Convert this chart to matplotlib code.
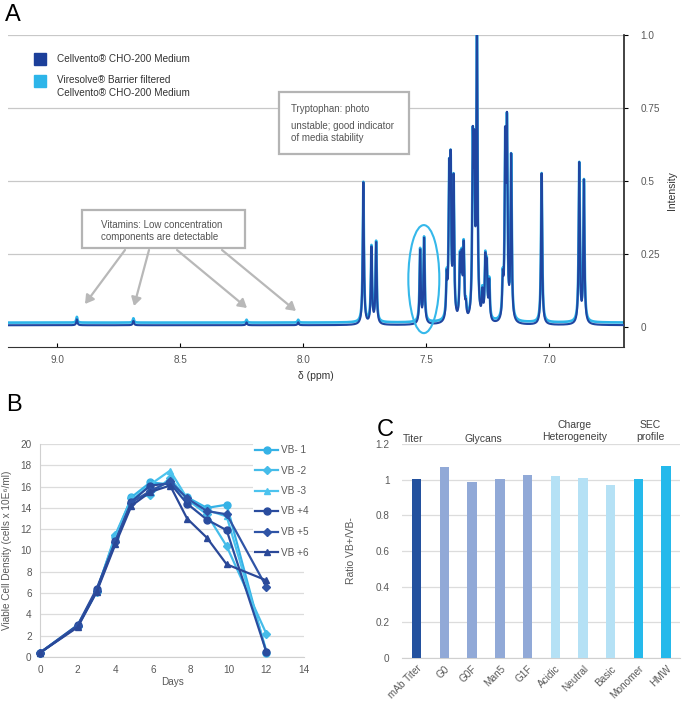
import numpy as np
import matplotlib
matplotlib.use("Agg")
import matplotlib.pyplot as plt
from matplotlib.patches import Ellipse, Rectangle, FancyArrowPatch

plt.rcParams['font.family'] = ['Liberation Sans', 'DejaVu Sans']

W, H = 685, 708

# ---- panel A: NMR peaks (ppm, apparent intensity)
peak_ppm = [7.755, 7.722, 7.703, 7.524, 7.508,
            7.416, 7.406, 7.400, 7.388, 7.362, 7.355, 7.347, 7.338,
            7.310, 7.304, 7.293, 7.271, 7.259, 7.253, 7.243,
            7.188, 7.178, 7.171, 7.154, 7.030, 6.877, 6.858,
            8.920, 8.690, 8.230, 8.020]
peak_int = [0.49, 0.27, 0.285, 0.26, 0.30,
            0.19, 0.57, 0.60, 0.52, 0.25, 0.26, 0.29, 0.09,
            0.68, 0.67, 1.05, 0.13, 0.25, 0.23, 0.16,
            0.19, 0.68, 0.73, 0.59, 0.52, 0.56, 0.50,
            0.02, 0.015, 0.01, 0.01]
baseline_dark = 0.006
baseline_light = 0.015
xticks_a = [9.0, 8.5, 8.0, 7.5, 7.0]
yticks_a = [0, 0.25, 0.5, 0.75, 1.0]
ylabels_a = ['0', '0.25', '0.5', '0.75', '1.0']

# ---- panel B: viable cell density
days = [0, 2, 3, 4, 4.85, 5.85, 6.9, 7.8, 8.85, 9.9, 12]
vb_m1 = [0.4, 2.9, 6.2, 11.3, 15.0, 16.4, 16.2, 15.0, 14.0, 14.3, 0.4]
vb_m2 = [0.4, 2.9, 6.1, 11.5, 14.9, 15.2, 16.8, 14.8, 13.4, 10.4, 2.2]
vb_m3 = [0.4, 3.0, 6.2, 11.2, 14.7, 16.2, 17.5, 14.9, 13.8, 13.2, 0.6]
vb_p4 = [0.4, 3.0, 6.4, 10.9, 14.6, 16.1, 16.3, 14.4, 12.9, 11.9, 0.5]
vb_p5 = [0.4, 2.9, 6.2, 10.8, 14.5, 15.6, 16.5, 14.9, 13.7, 13.4, 6.6]
vb_p6 = [0.4, 2.8, 6.1, 10.6, 14.2, 15.5, 16.1, 13.0, 11.2, 8.7, 7.2]
series_b = [vb_m1, vb_m2, vb_m3, vb_p4, vb_p5, vb_p6]
labels_b = ['VB- 1', 'VB -2', 'VB -3', 'VB +4', 'VB +5', 'VB +6']
colors_b = ['#35b2e6', '#45bce9', '#4cc3ee', '#2a4c9e', '#2f54a6', '#2a4898']
markers_b = ['o', 'D', '^', 'o', 'D', '^']

# ---- panel C: ratio VB+/VB-
cats_c = ['mAb Titer', 'G0', 'G0F', 'Man5', 'G1F', 'Acidic', 'Neutral',
          'Basic', 'Monomer', 'HMW']
ratio_c = [1.004, 1.069, 0.989, 1.006, 1.024, 1.022, 1.007, 0.968, 1.004, 1.075]
colors_c = ['#23519e', '#91a9d7', '#91a9d7', '#91a9d7', '#91a9d7',
            '#b5e1f5', '#b5e1f5', '#b5e1f5', '#25b9eb', '#25b9eb']


def fx(px):
    return px / W


def fy(py):
    return 1 - py / H


def lor(x, x0, g):
    return g**2 / ((x - x0)**2 + g**2)


fig = plt.figure(figsize=(W / 100, H / 100), dpi=100)
grey_txt = '#595959'

# ================= A =================
axA = fig.add_axes([fx(8), fy(347), fx(624) - fx(8), fy(35) - fy(347)])
gam = 0.0028
P = np.array(peak_ppm)
# solve for line amplitudes so the summed curve hits the read heights
M = lor(P[:, None], P[None, :], gam)
amps = np.linalg.solve(M, np.array(peak_int))
ppm = np.linspace(9.2, 6.69, 9000)
spec = (amps[None, :] * lor(ppm[:, None], P[None, :], gam)).sum(axis=1)
axA.plot(ppm, spec * 0.985 + baseline_light, color='#2db5e9', lw=1.9, zorder=2)
axA.plot(ppm, spec + baseline_dark, color='#1f46a1', lw=1.5, zorder=3)
axA.set_xlim(9.2, 6.695)
axA.set_ylim(-0.0685, 1.0)
for s in ['top', 'left']:
    axA.spines[s].set_visible(False)
axA.spines['bottom'].set_color('#333333')
axA.spines['right'].set_color('#222222')
axA.spines['right'].set_linewidth(1.2)
axA.yaxis.tick_right()
axA.yaxis.set_label_position('right')
axA.set_yticks(yticks_a)
axA.set_yticklabels(ylabels_a)
axA.set_xticks(xticks_a)
axA.set_xticklabels([f'{v:.1f}' for v in xticks_a])
axA.tick_params(axis='y', length=3, pad=9, labelsize=7.2, labelcolor=grey_txt)
axA.tick_params(axis='x', direction='in', length=3, pad=6, labelsize=7.2,
                labelcolor=grey_txt)
for v in yticks_a[1:]:
    axA.axhline(v, color='#c8c8c8', lw=0.9, zorder=0)
axA.set_ylabel('Intensity', fontsize=7.5, labelpad=5, color='#333333')
axA.set_xlabel('δ (ppm)', fontsize=7.5, labelpad=4, color='#333333')
axA.add_patch(Ellipse((7.509, 0.164), 0.126, 0.37, fill=False,
                      ec='#35b8ea', lw=1.5, zorder=4))

fig.text(fx(5), fy(15), 'A', fontsize=17, va='center', ha='left')

# legend
for py, c in [(59, '#1c3f9a'), (81, '#2db5e9')]:
    fig.patches.append(Rectangle((fx(34), fy(py + 6)), fx(12), 12 / H,
                                 transform=fig.transFigure, color=c))
fig.text(fx(57), fy(59), 'Cellvento® CHO-200 Medium', fontsize=7.2,
         va='center', color='#333333')
fig.text(fx(57), fy(86.5), 'Viresolve® Barrier filtered\nCellvento® CHO-200 Medium',
         fontsize=7.2, va='center', color='#333333', linespacing=1.3)

# annotation boxes
box_kw = dict(transform=fig.transFigure, fill=True, fc='white', ec='#b4b4b4',
              lw=1.6, zorder=5)
fig.patches.append(Rectangle((fx(279), fy(154)), fx(409) - fx(279),
                             fy(92) - fy(154), **box_kw))
fig.text(fx(291), fy(109), 'Tryptophan: photo', fontsize=7, va='center',
         color='#555555', zorder=6)
fig.text(fx(291), fy(132), 'unstable; good indicator\nof media stability',
         fontsize=7, va='center', color='#555555', linespacing=1.15, zorder=6)

fig.patches.append(Rectangle((fx(82), fy(248)), fx(245) - fx(82),
                             fy(210) - fy(248), **box_kw))
fig.text(fx(101), fy(230.5), 'Vitamins: Low concentration\ncomponents are detectable',
         fontsize=7, va='center', color='#555555', linespacing=1.25, zorder=6)

for (x0, y0), (x1, y1) in [((125, 250), (85, 304)), ((149, 250), (134, 306)),
                           ((177, 250), (247, 308)), ((222, 250), (296, 311))]:
    fig.add_artist(FancyArrowPatch(
        (fx(x0), fy(y0)), (fx(x1), fy(y1)), transform=fig.transFigure,
        arrowstyle='-|>,head_length=5,head_width=3', color='#b8b8b8', lw=1.6,
        shrinkA=0, shrinkB=0))

# ================= B =================
axB = fig.add_axes([fx(40), fy(657), fx(304) - fx(40), fy(444) - fy(657)])
for ys, lab, c, m in zip(series_b, labels_b, colors_b, markers_b):
    axB.plot(days, ys, color=c, marker=m, lw=1.6,
             ms=5 if m == 'o' else (4 if m == 'D' else 5),
             label=lab, clip_on=False, zorder=3)
axB.set_xlim(0, 14)
axB.set_ylim(0, 20)
axB.set_xticks(range(0, 15, 2))
axB.set_yticks(range(0, 21, 2))
axB.grid(axis='y', color='#dcdcdc', lw=0.9)
axB.set_axisbelow(True)
for s in ['top', 'right']:
    axB.spines[s].set_visible(False)
for s in ['left', 'bottom']:
    axB.spines[s].set_color('#d0d0d0')
axB.tick_params(length=0, labelsize=7.2, labelcolor=grey_txt, pad=6)
axB.set_xlabel('Days', fontsize=7.2, color=grey_txt, labelpad=1)
axB.set_ylabel('Viable Cell Density (cells x 10E⁶/ml)', fontsize=7.2,
               color=grey_txt, labelpad=6)
leg = axB.legend(loc='upper left', bbox_to_anchor=((253 - 40) / 264, (657 - 443) / 213),
                 frameon=True, fontsize=7.2, handlelength=2.3, handletextpad=0.3,
                 labelspacing=1.05, borderpad=0.2, borderaxespad=0)
leg.get_frame().set_edgecolor('none')
leg.get_frame().set_facecolor('white')
leg.get_frame().set_alpha(1)
for t in leg.get_texts():
    t.set_color(grey_txt)
fig.text(fx(6), fy(405), 'B', fontsize=17, va='center', ha='left')

# ================= C =================
axC = fig.add_axes([fx(402), fy(658), fx(680) - fx(402), fy(444) - fy(658)])
xc = np.arange(len(cats_c))
axC.bar(xc, ratio_c, width=0.34, color=colors_c, zorder=3)
axC.set_xlim(-0.53, 9.5)
axC.set_ylim(0, 1.2)
axC.set_yticks([0, 0.2, 0.4, 0.6, 0.8, 1.0, 1.2])
axC.set_yticklabels(['0', '0.2', '0.4', '0.6', '0.8', '1', '1.2'])
axC.set_xticks(xc)
axC.set_xticklabels(cats_c, rotation=45, ha='right', rotation_mode='anchor')
axC.grid(axis='y', color='#dcdcdc', lw=0.9)
axC.set_axisbelow(True)
for s in ['top', 'right', 'left']:
    axC.spines[s].set_visible(False)
axC.spines['bottom'].set_color('#d0d0d0')
axC.tick_params(length=0, labelsize=7.2, labelcolor=grey_txt)
axC.tick_params(axis='y', pad=9)
axC.tick_params(axis='x', pad=4)
axC.set_ylabel('Ratio VB+/VB-', fontsize=7.5, color=grey_txt, labelpad=14)
for px, py, s in [(413, 439, 'Titer'), (483, 439, 'Glycans'),
                  (575, 431, 'Charge\nHeterogeneity'), (650, 431, 'SEC\nprofile')]:
    fig.text(fx(px), fy(py), s, fontsize=7.5, ha='center', va='center',
             color='#404040', linespacing=1.3)
fig.text(fx(377), fy(430), 'C', fontsize=17, va='center', ha='left')

fig.savefig('out.png', dpi=100)
